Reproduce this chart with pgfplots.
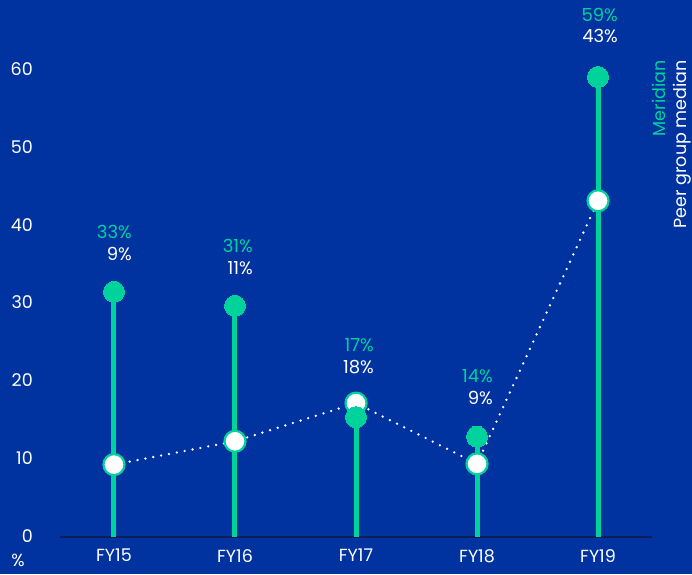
\documentclass[border=0pt]{standalone}
\usepackage{pgfplots}
\pgfplotsset{compat=1.18}
\usepackage{fontspec}
\setmainfont{Poppins}
\definecolor{bg}{RGB}{0,51,160}
\definecolor{mgreen}{RGB}{0,210,155}
\definecolor{navy}{RGB}{12,30,85}
\pgfplotstableread{
x y
0 31.5
1 29.7
2 15.4
3 12.9
4 59.1
}\meridian
\pgfplotstableread{
x y
0 9.3
1 12.3
2 17.2
3 9.4
4 43.2
}\peer
\begin{document}
\begin{tikzpicture}[x=1pt,y=1pt]
\fill[bg] (0,0) rectangle (692,574);
\useasboundingbox (0,0) rectangle (692,574);
\begin{axis}[
  at={(60pt,37pt)}, anchor=south west,
  scale only axis, width=592pt, height=467pt,
  xmin=-0.446, xmax=4.446, ymin=0, ymax=60,
  axis x line=bottom, axis y line=left,
  y axis line style={draw=none},
  x axis line style={draw=navy, line width=2.5pt, -},
  major tick length=0pt,
  xtick={0,1,2,3,4}, xticklabels={FY15,FY16,FY17,FY18,FY19},
  ytick={0,10,20,30,40,50,60},
  /pgf/number format/assume math mode=true,
  tick label style={font=\fontsize{17.5}{20}\selectfont, text=white, inner sep=0pt},
  yticklabel style={anchor=east, xshift=-27pt, yshift=1pt},
  xticklabel style={anchor=north, yshift=-12pt},
  clip=false,
]
\addplot[ycomb, draw=mgreen, line width=5pt, mark=none] table {\meridian};
\addplot[white, line width=2.6pt, dash pattern=on 0pt off 8pt, line cap=round, mark=none] table {\peer};
\addplot[only marks, mark=*, mark size=10.5pt, mark options={fill=white, draw=mgreen, line width=2.2pt}] table {\peer};
\addplot[only marks, mark=*, mark size=10.5pt, mark options={fill=mgreen, draw=mgreen, line width=0pt}] table {\meridian};
\begin{scope}[every node/.style={font=\fontsize{18}{20}\selectfont, anchor=east, inner sep=0pt}]
\node[text=mgreen, yshift=60pt, xshift=18pt] at (axis cs:0,31.5) {33\%};
\node[text=white, yshift=38pt, xshift=18pt] at (axis cs:0,31.5) {9\%};
\node[text=mgreen, yshift=60pt, xshift=18pt] at (axis cs:1,29.7) {31\%};
\node[text=white, yshift=38pt, xshift=18pt] at (axis cs:1,29.7) {11\%};
\node[text=mgreen, yshift=58pt, xshift=18pt] at (axis cs:2,17.2) {17\%};
\node[text=white, yshift=36pt, xshift=18pt] at (axis cs:2,17.2) {18\%};
\node[text=mgreen, yshift=60pt, xshift=16pt] at (axis cs:3,12.9) {14\%};
\node[text=white, yshift=39pt, xshift=16pt] at (axis cs:3,12.9) {9\%};
\node[text=mgreen, yshift=62pt, xshift=20pt] at (axis cs:4,59.1) {59\%};
\node[text=white, yshift=41pt, xshift=20pt] at (axis cs:4,59.1) {43\%};
\end{scope}
\end{axis}
\node[font=\fontsize{17.5}{20}\selectfont, text=white, inner sep=0pt] at (18,14) {\%};
\node[font=\fontsize{17.5}{20}\selectfont, text=mgreen, rotate=90, anchor=base east, inner sep=0pt] at (665,514) {Meridian};
\node[font=\fontsize{17.5}{20}\selectfont, text=white, rotate=90, anchor=base east, inner sep=0pt] at (686,514) {Peer group median};
\end{tikzpicture}
\end{document}
